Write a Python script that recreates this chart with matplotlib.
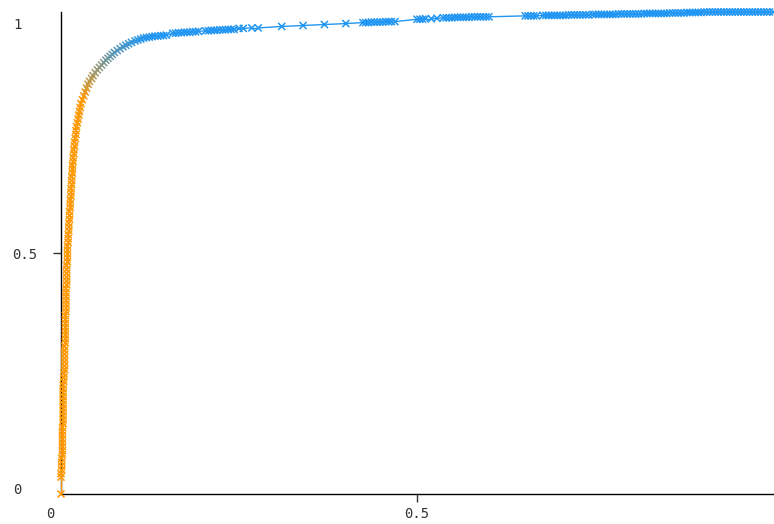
import matplotlib
matplotlib.use('Agg')
import matplotlib.pyplot as plt
import numpy as np
from matplotlib.collections import LineCollection
from matplotlib.colors import LinearSegmentedColormap, Normalize

# ROC points: steep part, bend, flat part
steep_tpr = [0.000, 0.035, 0.042, 0.050, 0.058, 0.066, 0.074, 0.082, 0.090, 0.098,
             0.106, 0.114, 0.122, 0.130, 0.138, 0.146, 0.154, 0.162, 0.170, 0.178,
             0.186, 0.194, 0.202, 0.210, 0.218, 0.226, 0.234, 0.242, 0.250, 0.258,
             0.266, 0.274, 0.282, 0.290, 0.298, 0.306, 0.314, 0.322, 0.330, 0.338,
             0.346, 0.354, 0.362, 0.370, 0.378, 0.386, 0.394, 0.402, 0.410, 0.418,
             0.426, 0.434, 0.442, 0.450, 0.458, 0.466, 0.474, 0.482, 0.490, 0.498,
             0.506, 0.514, 0.522, 0.530, 0.538, 0.546, 0.554, 0.562, 0.570, 0.578,
             0.586, 0.594, 0.602, 0.610, 0.618, 0.626, 0.634, 0.642, 0.650, 0.658,
             0.666, 0.674, 0.682, 0.690, 0.698, 0.706, 0.714, 0.722, 0.730, 0.738,
             0.746, 0.754, 0.762, 0.770, 0.778, 0.786, 0.794, 0.802, 0.810, 0.818]
steep_fpr = [0.000, 0.000, 0.000, 0.001, 0.001, 0.001, 0.001, 0.002, 0.002, 0.002,
             0.002, 0.002, 0.002, 0.002, 0.002, 0.003, 0.003, 0.003, 0.003, 0.003,
             0.003, 0.003, 0.003, 0.003, 0.003, 0.003, 0.004, 0.004, 0.004, 0.005,
             0.005, 0.005, 0.005, 0.005, 0.005, 0.005, 0.006, 0.006, 0.006, 0.006,
             0.006, 0.006, 0.006, 0.006, 0.007, 0.007, 0.007, 0.007, 0.007, 0.007,
             0.007, 0.008, 0.008, 0.008, 0.008, 0.008, 0.008, 0.009, 0.009, 0.009,
             0.009, 0.009, 0.010, 0.010, 0.010, 0.011, 0.011, 0.011, 0.012, 0.012,
             0.012, 0.013, 0.013, 0.013, 0.014, 0.014, 0.014, 0.015, 0.015, 0.015,
             0.016, 0.016, 0.016, 0.017, 0.017, 0.018, 0.018, 0.019, 0.019, 0.020,
             0.021, 0.021, 0.022, 0.023, 0.024, 0.025, 0.026, 0.027, 0.028, 0.030]

bend_tpr = [0.826, 0.834, 0.842, 0.850, 0.856, 0.862, 0.868, 0.874, 0.880, 0.885,
            0.890, 0.895, 0.900, 0.904, 0.908, 0.912, 0.916, 0.920, 0.924, 0.928,
            0.931, 0.934, 0.937, 0.940, 0.942, 0.944, 0.946, 0.947, 0.948, 0.949]
bend_fpr = [0.032, 0.034, 0.036, 0.038, 0.040, 0.043, 0.045, 0.048, 0.051, 0.054,
            0.057, 0.060, 0.063, 0.066, 0.069, 0.072, 0.075, 0.079, 0.083, 0.087,
            0.091, 0.095, 0.099, 0.104, 0.108, 0.112, 0.116, 0.120, 0.124, 0.128]

flat_fpr = ([0.132, 0.136, 0.140, 0.144, 0.148]
            + [0.157, 0.161, 0.165, 0.169, 0.173, 0.177, 0.181, 0.185, 0.189, 0.193]
            + [0.203, 0.207, 0.211, 0.215, 0.219, 0.223, 0.227, 0.231, 0.235, 0.239, 0.243]
            + [0.250, 0.256, 0.268, 0.277]
            + [0.310, 0.340, 0.370, 0.400]
            + [0.424, 0.428, 0.432, 0.436, 0.440, 0.444, 0.448, 0.452, 0.456, 0.460, 0.464, 0.469]
            + [0.500, 0.504, 0.508, 0.512, 0.520, 0.528]
            + [0.537, 0.541, 0.545, 0.549, 0.553, 0.557, 0.561, 0.565, 0.569, 0.573,
               0.577, 0.581, 0.585, 0.589, 0.593, 0.597, 0.601]
            + [0.652, 0.656, 0.660, 0.664, 0.668]
            + [0.677, 0.681, 0.685, 0.689, 0.693, 0.697, 0.701, 0.705, 0.709, 0.713,
               0.717, 0.721, 0.725, 0.729, 0.733, 0.737, 0.741]
            + [0.747, 0.751, 0.755, 0.759, 0.763, 0.767, 0.771, 0.775, 0.779, 0.783,
               0.787, 0.791, 0.795, 0.799, 0.803, 0.807, 0.811, 0.815, 0.819, 0.823,
               0.827, 0.831, 0.835, 0.839, 0.843, 0.847, 0.851]
            + [0.855, 0.859, 0.863, 0.867, 0.871, 0.875, 0.879, 0.883, 0.887, 0.891,
               0.895, 0.899, 0.903, 0.907, 0.911, 0.915, 0.919, 0.923, 0.927, 0.931,
               0.935, 0.939, 0.943, 0.947, 0.951, 0.955, 0.959, 0.963, 0.967, 0.971,
               0.975, 0.979, 0.983, 0.987, 0.991, 0.995, 1.000])
flat_tpr = ([0.950, 0.950, 0.951, 0.951, 0.952]
            + [0.956, 0.956, 0.957, 0.957, 0.958, 0.958, 0.958, 0.959, 0.959, 0.960]
            + [0.961, 0.961, 0.962, 0.962, 0.962, 0.963, 0.963, 0.963, 0.964, 0.964, 0.964]
            + [0.966, 0.966, 0.967, 0.967]
            + [0.970, 0.972, 0.974, 0.976]
            + [0.978, 0.978, 0.978, 0.979, 0.979, 0.979, 0.979, 0.979, 0.980, 0.980, 0.980, 0.980]
            + [0.985, 0.985, 0.985, 0.986, 0.986, 0.987]
            + [0.988, 0.988, 0.988, 0.988, 0.989, 0.989, 0.989, 0.989, 0.989, 0.989,
               0.990, 0.990, 0.990, 0.990, 0.990, 0.990, 0.990]
            + [0.992] * 5
            + [0.993] * 9 + [0.994] * 8
            + [0.995] * 9 + [0.996] * 9 + [0.997] * 9
            + [0.998] * 6 + [0.999] * 6 + [1.000] * 25)

tick_labels_x = ['0', '0.5']
tick_labels_y = ['0', '0.5', '1']

orange = '#FF9800'
blue = '#2196F3'

fpr = np.array(steep_fpr + bend_fpr + flat_fpr)
tpr = np.array(steep_tpr + bend_tpr + flat_tpr)

cmap = LinearSegmentedColormap.from_list('ob', [orange, blue])
norm = Normalize(0.82, 0.95, clip=True)
cols = cmap(norm(tpr))

W, H = 774, 524
fig = plt.figure(figsize=(W / 100, H / 100), dpi=100)
ax = fig.add_axes([61 / W, (H - 494) / H, 712 / W, (494 - 12) / H])

pts = np.column_stack([fpr, tpr])
segs = np.stack([pts[:-1], pts[1:]], axis=1)
lc = LineCollection(segs, colors=cols[1:], linewidths=1.0, zorder=2)
ax.add_collection(lc)
ax.scatter(fpr, tpr, marker='x', s=26, c=cols, linewidths=1.1, zorder=3, clip_on=False)

ax.set_xlim(0, 1)
ax.set_ylim(0, 1)
for s in ['top', 'right']:
    ax.spines[s].set_visible(False)
for s in ['left', 'bottom']:
    ax.spines[s].set_color('black')
    ax.spines[s].set_linewidth(1)
    ax.spines[s].set_zorder(1)

# only the middle ticks carry a tick mark
ax.set_xticks([0.5], labels=[''])
ax.set_yticks([0.5], labels=[''])
ax.tick_params(length=6, width=1, color='#333333')

font = dict(family='DejaVu Sans Mono', fontsize=10, color='#333333')
# label positions in pixels, nudged like the original
xl_pos = [(50, 514), (417, 514)]
yl_pos = [(13, 490), (12, 255), (13, 25)]
for lab, (px, py) in zip(tick_labels_x, xl_pos):
    fig.text(px / W, 1 - py / H, lab, ha='center', va='center', **font)
for lab, (px, py) in zip(tick_labels_y, yl_pos):
    fig.text(px / W, 1 - py / H, lab, ha='left', va='center', **font)

fig.savefig('out.png', dpi=100)
